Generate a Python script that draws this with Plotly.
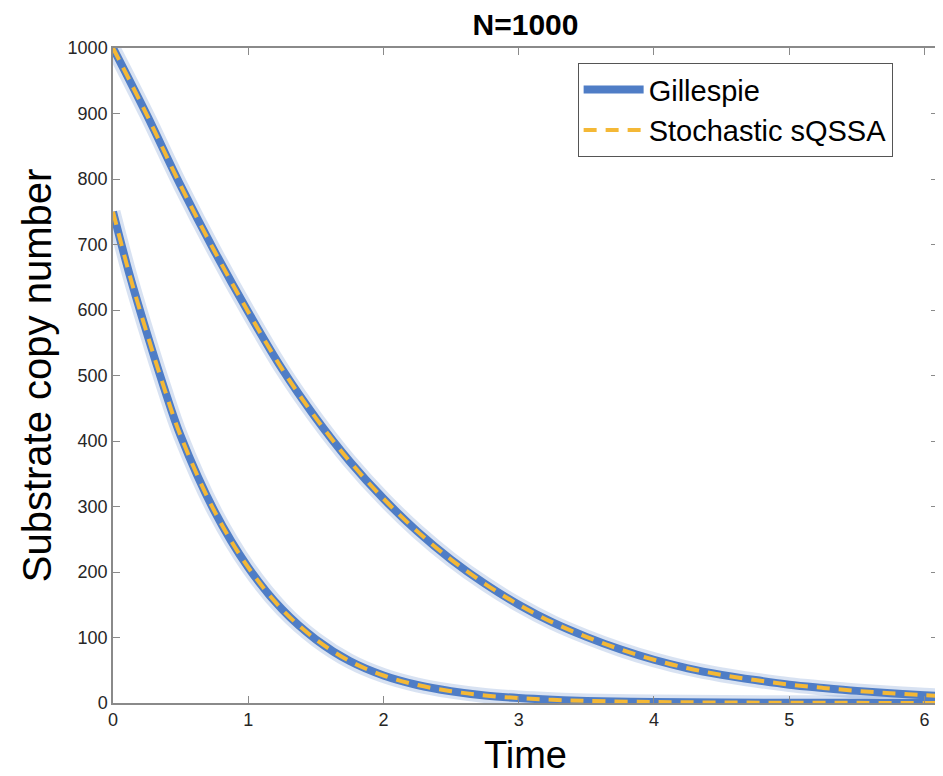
import plotly.graph_objects as go

# Upper curve (initial substrate 1000)
t_upper = [0, 0.25, 0.5, 0.75, 1.0, 1.25, 1.5, 1.75, 2.0, 2.25, 2.5, 2.75, 3.0, 3.25, 3.5,
           3.75, 4.0, 4.25, 4.5, 4.75, 5.0, 5.25, 5.5, 5.75, 6.0, 6.1]
s_upper = [1000, 898, 790, 690, 597, 510, 435, 369, 312, 262, 219, 182, 150, 123, 101,
           82, 66, 53, 43, 35, 28, 23, 18.5, 15, 12, 11]

# Lower curve (initial substrate 750)
t_lower = [0, 0.125, 0.25, 0.375, 0.5, 0.75, 1.0, 1.25, 1.5, 1.75, 2.0, 2.25, 2.5, 2.75, 3.0,
           3.25, 3.5, 4.0, 4.5, 5.0, 5.5, 6.0, 6.1]
s_lower = [750, 652, 565, 483, 408, 293, 207, 143, 97, 64, 42, 27.5, 18, 11.5, 7.5,
           4.9, 3.2, 1.5, 0.8, 0.4, 0.2, 0.1, 0.1]

x_ticks = [0, 1, 2, 3, 4, 5, 6]
y_ticks = [0, 100, 200, 300, 400, 500, 600, 700, 800, 900, 1000]

BLUE = "#4F7DC6"
HALO = "rgba(79,125,198,0.22)"
ORANGE = "#F4B836"
FONT = "Liberation Sans, Arial, sans-serif"

fig = go.Figure()
curves = [(t_upper, s_upper), (t_lower, s_lower)]
for t, s in curves:
    fig.add_trace(go.Scatter(x=t, y=s, mode="lines", line=dict(color=HALO, width=15, shape="spline"),
                             showlegend=False, hoverinfo="skip"))
for i, (t, s) in enumerate(curves):
    fig.add_trace(go.Scatter(x=t, y=s, mode="lines", name="Gillespie",
                             line=dict(color=BLUE, width=8, shape="spline"),
                             showlegend=(i == 0), legendgroup="g"))
for i, (t, s) in enumerate(curves):
    fig.add_trace(go.Scatter(x=t, y=s, mode="lines", name="Stochastic sQSSA",
                             line=dict(color=ORANGE, width=4, dash="13px,9px", shape="spline"),
                             showlegend=(i == 0), legendgroup="s"))

axis_common = dict(
    showline=True, linecolor="#8a8a8a", linewidth=1.5, mirror="ticks",
    ticks="inside", ticklen=7, tickcolor="#8a8a8a", tickwidth=1.2,
    showgrid=False, zeroline=False, automargin=False,
    tickfont=dict(family=FONT, size=18, color="#262626"),
)

fig.update_layout(
    width=935, height=768,
    margin=dict(l=105, r=5, t=40, b=73),
    paper_bgcolor="white", plot_bgcolor="white",
    title=dict(text="<b>N=1000</b>", x=0.5535, xref="container", xanchor="center",
               y=0.979, yref="container", yanchor="middle", pad=dict(t=0, b=0),
               font=dict(family=FONT, size=30, color="black")),
    xaxis=dict(range=[0, 6.1], tickvals=x_ticks,
               title=dict(text="Time", font=dict(family=FONT, size=38, color="black"), standoff=12),
               **axis_common),
    yaxis=dict(range=[0, 1000], tickvals=y_ticks,
               title=dict(text="Substrate copy number", font=dict(family=FONT, size=40, color="black"),
                          standoff=4),
               **axis_common),
    legend=dict(x=0.945, xanchor="right", y=0.977, yanchor="top",
                bgcolor="white", bordercolor="#555555", borderwidth=1,
                font=dict(family=FONT, size=29, color="black"),
                tracegroupgap=0, itemwidth=60),
    showlegend=True,
)

fig.write_html("out.html")
